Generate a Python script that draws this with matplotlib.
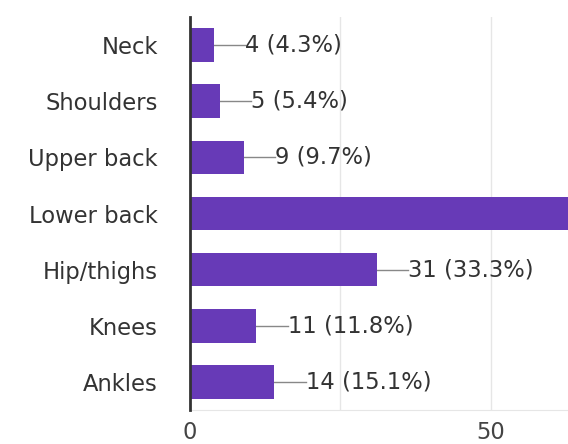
import matplotlib
matplotlib.use("Agg")
import matplotlib.pyplot as plt

# Zonas de dolor reportadas (n = 93 respuestas)
zonas = ["Neck", "Shoulders", "Upper back", "Lower back", "Hip/thighs", "Knees", "Ankles"]
conteos = [4, 5, 9, 68, 31, 11, 14]
porcentajes = [4.3, 5.4, 9.7, 73.1, 33.3, 11.8, 15.1]
ticks_x = [0, 50]

MORADO = "#673ab7"
TEXTO = "#333333"
TAM = 16.3
X_MAX = 62.8

plt.rcParams["font.family"] = ["DejaVu Sans"]

fig = plt.figure(figsize=(5.68, 4.44), dpi=100)
ax = fig.add_axes([190 / 568, 34 / 444, 1 - 190 / 568, 393 / 444])

pos = list(range(len(zonas)))
ax.barh(pos, conteos, height=0.6, color=MORADO, zorder=3)

# etiqueta con linea guia al final de cada barra (solo si cabe en el eje)
for y, c, p in zip(pos, conteos, porcentajes):
    if c + 5 > X_MAX:
        continue
    ax.plot([c, c + 5.2], [y, y], color="#888888", lw=1, zorder=2)
    ax.text(c + 5.2, y, f"{c} ({p}%)", va="center", ha="left",
            fontsize=TAM, color=TEXTO)

ax.set_xlim(0, X_MAX)
ax.set_ylim(len(zonas) - 0.5, -0.5)
ax.set_yticks(pos)
ax.set_yticklabels(zonas, fontsize=TAM, color=TEXTO)
ax.set_xticks(ticks_x)
ax.set_xticklabels([str(t) for t in ticks_x], fontsize=TAM, color="#444444")
ax.tick_params(axis="both", length=0)
ax.tick_params(axis="y", pad=23)
ax.tick_params(axis="x", pad=8)

for x in [25, 50]:
    ax.axvline(x, color="#e6e6e6", lw=1, zorder=1)

for lado in ["top", "right"]:
    ax.spines[lado].set_visible(False)
ax.spines["bottom"].set_color("#e6e6e6")
ax.spines["left"].set_color("#333333")
ax.spines["left"].set_linewidth(2)
ax.spines["left"].set_zorder(4)

fig.savefig("out.png", dpi=100)
